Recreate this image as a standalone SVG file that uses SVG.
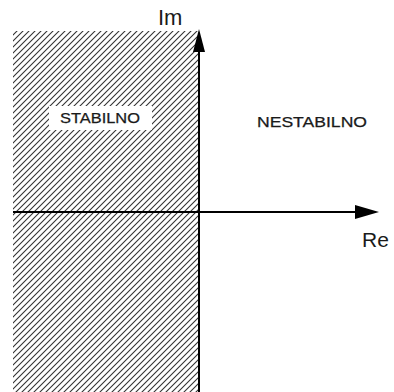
<svg xmlns="http://www.w3.org/2000/svg" width="394" height="392" viewBox="0 0 394 392">
<style>
.ax{stroke:#000;stroke-width:2;fill:none}
.lbl{font-family:"Liberation Sans",Arial,sans-serif;fill:#1a1a1a}
.reg{font-size:14px;stroke:#1a1a1a;stroke-width:0.25}
</style>
<defs>
<pattern id="hatch" patternUnits="userSpaceOnUse" width="6" height="6">
<path d="M-1,1 L1,-1 M0,6 L6,0 M5,7 L7,5" stroke="#333" stroke-width="1.1"/>
</pattern>
</defs>
<g id="stable-region">
<rect x="13" y="31" width="186" height="361" fill="url(#hatch)"/>
<rect x="49" y="106" width="103" height="24" fill="#fff"/>
<text class="lbl reg" x="60" y="123" textLength="80" lengthAdjust="spacingAndGlyphs">STABILNO</text>
</g>
<g id="unstable-region">
<text class="lbl reg" x="257" y="127" textLength="110" lengthAdjust="spacingAndGlyphs">NESTABILNO</text>
</g>
<g id="connectors">
<line class="ax" x1="199" y1="392" x2="199" y2="50"/>
<path d="M193,52 L199,29 L205,52 Z" fill="#000"/>
<line class="ax" x1="13" y1="212" x2="358" y2="212"/>
<path d="M355,205 L379,212 L355,219 Z" fill="#000"/>
</g>
<g id="labels">
<text class="lbl" x="158" y="25" font-size="22">Im</text>
<text class="lbl" x="362" y="247" font-size="21">Re</text>
</g>
</svg>
